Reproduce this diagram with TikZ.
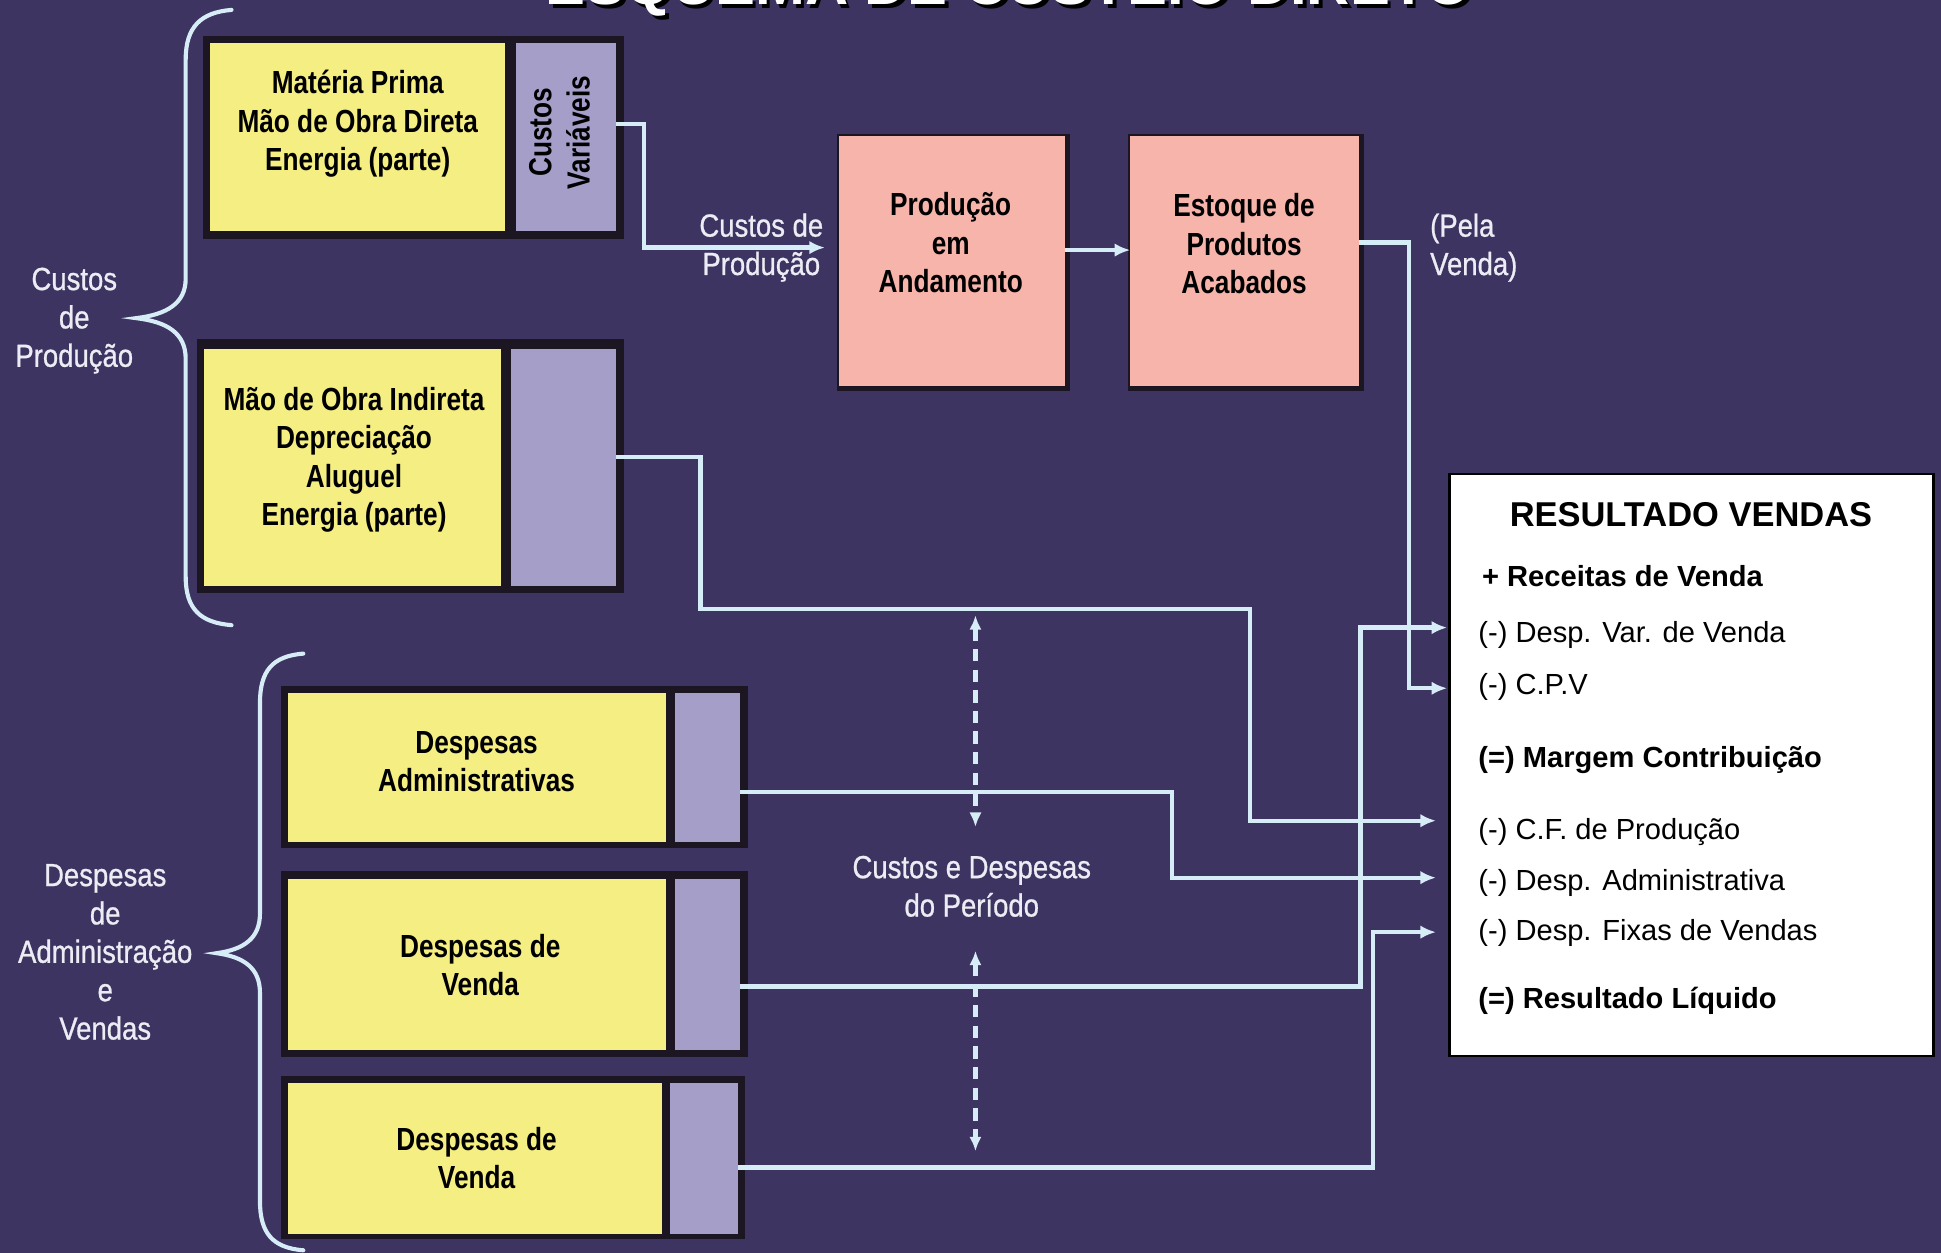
\documentclass[tikz,border=0pt]{standalone}
\usepackage{fontspec}
\setmainfont{Liberation Sans}
\newfontfamily\narrowfont[FakeStretch=0.82]{Liberation Sans}
\newfontfamily\labelfont[FakeStretch=0.86,FakeBold=0.8]{Liberation Sans}
\usetikzlibrary{arrows.meta}
\definecolor{bgpurple}{RGB}{62,52,98}
\definecolor{boxyellow}{RGB}{245,238,130}
\definecolor{boxlav}{RGB}{164,158,200}
\definecolor{boxpink}{RGB}{246,180,170}
\definecolor{linecol}{RGB}{214,236,246}
\definecolor{labelcol}{RGB}{236,236,244}
\definecolor{framecol}{RGB}{28,22,34}
\begin{document}
\begin{tikzpicture}[x=0.6pt,y=-0.6pt,
  conn/.style={draw=linecol, line width=2.1pt},
  arr/.style={conn, -{Latex[length=7.5pt,width=6.5pt]}},
  yel/.style={fill=boxyellow, inner sep=0pt, outer sep=0pt},
  lav/.style={fill=boxlav, inner sep=0pt, outer sep=0pt},
  pink/.style={fill=boxpink, inner sep=0pt, outer sep=0pt},
  btext/.style={font=\narrowfont\bfseries\fontsize{15.5}{18.6}\selectfont, align=center, text=black, inner sep=0pt},
  wlabel/.style={font=\labelfont\fontsize{15.5}{18.6}\selectfont, align=center, text=labelcol, inner sep=0pt},
  rtext/.style={font=\fontsize{14.1}{17}\selectfont, anchor=base west, inner sep=0pt, text=black},
  rbold/.style={rtext, font=\bfseries\fontsize{14.1}{17}\selectfont},
  brace/.style={draw=linecol, line width=2pt, line cap=round},
  dsh/.style={draw=linecol, line width=2pt, dash pattern=on 6pt off 4pt, {Latex[length=7pt,width=6pt]}-{Latex[length=7pt,width=6pt]}}
]
% background
\fill[bgpurple] (0,0) rectangle (1568,1012);
\useasboundingbox (0,0) rectangle (1568,1012);

% title (cut at the top edge, as in the reference)
\begin{scope}
\clip (0,0) rectangle (1568,1012);
\node[font=\bfseries\fontsize{29}{30}\selectfont, text=black, anchor=base, inner sep=0pt] (ttlsh) at (818,7) {ESQUEMA DE CUSTEIO DIRETO};
\node[font=\bfseries\fontsize{29}{30}\selectfont, text=white, anchor=base, inner sep=0pt] (ttl) at (815,4) {ESQUEMA DE CUSTEIO DIRETO};
\end{scope}

% braces
\draw[brace] (187,8) .. controls (162,10) and (150,22) .. (150,48) -- (150,225) .. controls (150,245) and (135,254) .. (110,257) .. controls (135,260) and (150,269) .. (150,290) -- (150,466) .. controls (150,492) and (162,503) .. (187,505);
\draw[brace] (245,528) .. controls (220,530) and (210,542) .. (210,568) -- (210,738) .. controls (210,758) and (197,767) .. (175,770) .. controls (197,773) and (210,782) .. (210,802) -- (210,970) .. controls (210,996) and (220,1008) .. (245,1010);

\node[wlabel] (lcp) at (60,259) {Custos\\de\\Produção};
\node[wlabel] (lda) at (85,769) {Despesas\\de\\Administração\\e\\Vendas};

% box 1
\fill[framecol] (164,29) rectangle (504,193);
\node[yel, minimum width=142.8pt, minimum height=91.2pt] (y1) at (289,111) {};
\node[lav, minimum width=48.6pt, minimum height=91.2pt] (lav1) at (457.5,111) {};
\node[btext] (t1) at (289,100) {Matéria Prima\\Mão de Obra Direta\\Energia (parte)};
\node[btext, rotate=90] (cv) at (452,107) {Custos\\Variáveis};

% box 2
\fill[framecol] (159,274) rectangle (504,479);
\node[yel, minimum width=144pt, minimum height=114.6pt] (y2) at (285,377.5) {};
\node[lav, minimum width=51pt, minimum height=114.6pt] (lav2) at (455.5,377.5) {};
\node[btext] (t2) at (286,371.5) {Mão de Obra Indireta\\Depreciação\\Aluguel\\Energia (parte)};

% box 3
\fill[framecol] (227,554) rectangle (604,685);
\node[yel, minimum width=183pt, minimum height=72pt] (y3) at (385.5,620) {};
\node[lav, minimum width=31.8pt, minimum height=72pt] (lav3) at (571.5,620) {};
\node[btext] (t3) at (385,615.5) {Despesas\\Administrativas};

% box 4
\fill[framecol] (227,704) rectangle (604,854);
\node[yel, minimum width=183pt, minimum height=82.8pt] (y4) at (385.5,779) {};
\node[lav, minimum width=31.8pt, minimum height=82.8pt] (lav4) at (571.5,779) {};
\node[btext] (t4) at (388,779.5) {Despesas de\\Venda};

% box 5
\fill[framecol] (227,869) rectangle (602,1001);
\node[yel, minimum width=181.2pt, minimum height=73.2pt] (y5) at (384,936) {};
\node[lav, minimum width=33pt, minimum height=73.2pt] (lav5) at (568.5,936) {};
\node[btext] (t5) at (385,935.5) {Despesas de\\Venda};

% pink boxes
\fill[framecol] (676,108) rectangle (864,316);
\node[pink, minimum width=109.2pt, minimum height=121.2pt] (prod) at (769,211) {};
\node[btext] (tprod) at (768,196) {Produção\\em\\Andamento};
\fill[framecol] (911,108) rectangle (1102,316);
\node[pink, minimum width=111pt, minimum height=121.2pt] (est) at (1005.5,211) {};
\node[btext] (test) at (1005,197) {Estoque de\\Produtos\\Acabados};

% labels
\node[wlabel] (lcpr) at (615,200) {Custos de\\Produção};
\node[wlabel, align=left, anchor=west] (lpv) at (1155,200) {(Pela\\Venda)};
\node[wlabel] (per) at (785,716) {Custos e Despesas\\do Período};

% result box
\node[draw=black, line width=1.2pt, fill=white, minimum width=234.6pt, minimum height=282pt, inner sep=0pt] (res) at (1366.5,618) {};
\node[font=\bfseries\fontsize{16.7}{20}\selectfont, anchor=base, inner sep=0pt] (rtitle) at (1366,425) {RESULTADO VENDAS};
\node[rbold] (r1) at (1197,474) {+ Receitas de Venda};
\node[rtext] (r2) at (1194,519) {(-) Desp. Var. de Venda};
\node[rtext] (r3) at (1194,561) {(-) C.P.V};
\node[rbold] (r4) at (1194,620) {(=) Margem Contribuição};
\node[rtext] (r5) at (1194,678) {(-) C.F. de Produção};
\node[rtext] (r6) at (1194,719) {(-) Desp. Administrativa};
\node[rtext] (r7) at (1194,760) {(-) Desp. Fixas de Vendas};
\node[rbold] (r8) at (1194,815) {(=) Resultado Líquido};

\coordinate (a-var) at (1169,507);
\coordinate (a-cpv) at (1169,556);
\coordinate (a-cf) at (1160,663);
\coordinate (a-adm) at (1160,709);
\coordinate (a-fix) at (1160,753);

% connectors
\draw[arr, shorten >=7pt] (lav1.east |- 0,100) -- (520,100) -- (520,200) -- (prod.west |- 0,200);
\draw[arr] (prod.east |- 0,202) -- (est.west |- 0,202);
\draw[arr] (est.east |- 0,196) -- (1138,196) -- (1138,556) -- (a-cpv);
\draw[arr] (lav2.east |- 0,369) -- (566,369) -- (566,492) -- (1010,492) -- (1010,663) -- (a-cf);
\draw[arr] (lav3.east |- 0,640) -- (947,640) -- (947,709) -- (a-adm);
\draw[arr] (lav4.east |- 0,797) -- (1099,797) -- (1099,507) -- (a-var);
\draw[arr] (lav5.east |- 0,943) -- (1109,943) -- (1109,753) -- (a-fix);

% dashed period arrows
\coordinate (d1) at (788,497);
\coordinate (d2) at (788,668);
\coordinate (d3) at (788,768);
\coordinate (d4) at (788,930);
\draw[dsh] (d1) -- (d2);
\draw[dsh] (d3) -- (d4);
\end{tikzpicture}
\end{document}
